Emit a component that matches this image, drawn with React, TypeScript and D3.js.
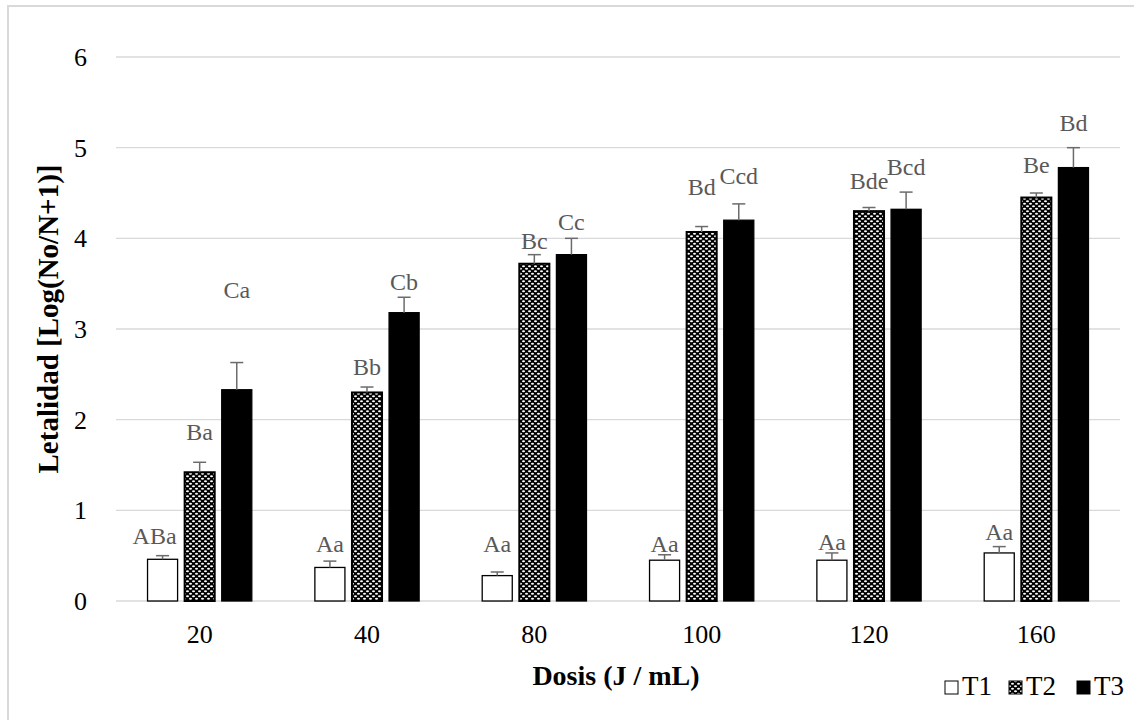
import React, { useEffect, useRef } from 'react';
import * as d3 from 'd3';

const categories = ['20', '40', '80', '100', '120', '160'];
const seriesNames = ['T1', 'T2', 'T3'];

// bar heights per series
const t1Values = [0.46, 0.37, 0.28, 0.45, 0.45, 0.53];
const t2Values = [1.42, 2.30, 3.72, 4.07, 4.30, 4.45];
const t3Values = [2.33, 3.18, 3.82, 4.20, 4.32, 4.78];

// upper end of the error bars
const t1ErrTop = [0.50, 0.44, 0.32, 0.51, 0.53, 0.60];
const t2ErrTop = [1.53, 2.36, 3.82, 4.13, 4.34, 4.50];
const t3ErrTop = [2.63, 3.35, 4.00, 4.38, 4.51, 5.00];

// significance letters and where they sit (in y units)
const t1Letters = ['ABa', 'Aa', 'Aa', 'Aa', 'Aa', 'Aa'];
const t2Letters = ['Ba', 'Bb', 'Bc', 'Bd', 'Bde', 'Be'];
const t3Letters = ['Ca', 'Cb', 'Cc', 'Ccd', 'Bcd', 'Bd'];
const t1LetterY = [0.72, 0.63, 0.63, 0.63, 0.66, 0.76];
const t2LetterY = [1.87, 2.58, 3.98, 4.57, 4.64, 4.81];
const t3LetterY = [3.43, 3.52, 4.18, 4.69, 4.79, 5.28];

const yTicks = [0, 1, 2, 3, 4, 5, 6];

const serif = '"Liberation Serif", "Times New Roman", Times, serif';

export default function App() {
  const svgRef = useRef<SVGSVGElement>(null);

  useEffect(() => {
    if (!svgRef.current) return;
    const svg = d3.select(svgRef.current);
    svg.selectAll('*').remove();

    const W = 1134, H = 720;
    const plot = { left: 116, right: 1120, top: 57, bottom: 601 };

    const values = [t1Values, t2Values, t3Values];
    const errs = [t1ErrTop, t2ErrTop, t3ErrTop];
    const letters = [t1Letters, t2Letters, t3Letters];
    const letterY = [t1LetterY, t2LetterY, t3LetterY];

    const x0 = d3.scaleBand<string>().domain(categories).range([plot.left, plot.right]);
    const x1 = d3.scaleBand<string>()
      .domain(seriesNames)
      .range([0, x0.bandwidth()])
      .paddingInner(0.19)
      .paddingOuter(0.85);
    const y = d3.scaleLinear().domain([0, 6]).range([plot.bottom, plot.top]);

    // pattern for T2
    const defs = svg.append('defs');
    const pat = defs.append('pattern')
      .attr('id', 'lattice')
      .attr('patternUnits', 'userSpaceOnUse')
      .attr('width', 6)
      .attr('height', 5);
    pat.append('rect').attr('width', 6).attr('height', 5).attr('fill', '#000');
    pat.append('ellipse').attr('cx', 1.5).attr('cy', 1.25).attr('rx', 1.5).attr('ry', 1.1).attr('fill', '#fff');
    pat.append('ellipse').attr('cx', 4.5).attr('cy', 3.75).attr('rx', 1.5).attr('ry', 1.1).attr('fill', '#fff');

    svg.append('rect')
      .attr('x', 0).attr('y', 0).attr('width', W).attr('height', H)
      .attr('fill', '#fff');

    // chart frame
    svg.append('rect')
      .attr('x', 8).attr('y', 6).attr('width', W).attr('height', H)
      .attr('fill', 'none').attr('stroke', '#d9d9d9').attr('stroke-width', 2);

    // grid lines
    svg.append('g')
      .selectAll('line')
      .data(yTicks)
      .join('line')
      .attr('x1', plot.left).attr('x2', plot.right)
      .attr('y1', d => y(d)).attr('y2', d => y(d))
      .attr('stroke', '#d9d9d9').attr('stroke-width', 1.3);

    // y tick labels
    svg.append('g')
      .selectAll('text')
      .data(yTicks)
      .join('text')
      .attr('x', 87).attr('y', d => y(d))
      .attr('dy', '0.35em')
      .attr('text-anchor', 'end')
      .style('font-family', serif).attr('font-size', 26).attr('fill', '#000')
      .text(d => d);

    // x tick labels
    svg.append('g')
      .selectAll('text')
      .data(categories)
      .join('text')
      .attr('x', d => (x0(d) as number) + x0.bandwidth() / 2)
      .attr('y', 643)
      .attr('text-anchor', 'middle')
      .style('font-family', serif).attr('font-size', 26).attr('fill', '#000')
      .text(d => d);

    const fills = ['#fff', 'url(#lattice)', '#000'];
    const strokeW = [1.3, 2, 1.3];

    seriesNames.forEach((s, si) => {
      const g = svg.append('g');
      const rows = categories.map((c, ci) => ({ c, v: values[si][ci], e: errs[si][ci], l: letters[si][ci], ly: letterY[si][ci] }));
      const bx = (c: string) => (x0(c) as number) + (x1(s) as number);
      const cx = (c: string) => bx(c) + x1.bandwidth() / 2;

      g.selectAll('rect')
        .data(rows)
        .join('rect')
        .attr('x', d => bx(d.c))
        .attr('y', d => y(d.v))
        .attr('width', x1.bandwidth())
        .attr('height', d => y(0) - y(d.v))
        .attr('fill', fills[si])
        .attr('stroke', '#000')
        .attr('stroke-width', strokeW[si]);

      // error bars
      g.selectAll('line.err')
        .data(rows)
        .join('line')
        .attr('class', 'err')
        .attr('x1', d => cx(d.c)).attr('x2', d => cx(d.c))
        .attr('y1', d => y(d.v)).attr('y2', d => y(d.e))
        .attr('stroke', '#6b6b6b').attr('stroke-width', 1.5);
      g.selectAll('line.cap')
        .data(rows)
        .join('line')
        .attr('class', 'cap')
        .attr('x1', d => cx(d.c) - 6.5).attr('x2', d => cx(d.c) + 6.5)
        .attr('y1', d => y(d.e)).attr('y2', d => y(d.e))
        .attr('stroke', '#6b6b6b').attr('stroke-width', 1.5);

      // the first T1 label sits a little left of its bar
      g.selectAll('text')
        .data(rows)
        .join('text')
        .attr('x', d => cx(d.c) - (d.l === 'ABa' ? 8 : 0))
        .attr('y', d => y(d.ly))
        .attr('dy', '0.35em')
        .attr('text-anchor', 'middle')
        .style('font-family', serif).attr('font-size', 24).attr('fill', '#595959')
        .text(d => d.l);
    });

    // axis titles
    svg.append('text')
      .attr('x', 616).attr('y', 685)
      .attr('text-anchor', 'middle')
      .style('font-family', serif).attr('font-size', 28).attr('font-weight', 'bold')
      .text('Dosis (J / mL)');

    svg.append('text')
      .attr('transform', `translate(58,${(plot.top + plot.bottom) / 2 - 10}) rotate(-90)`)
      .attr('text-anchor', 'middle')
      .style('font-family', serif).attr('font-size', 29).attr('font-weight', 'bold')
      .text('Letalidad [Log(No/N+1)]');

    // legend
    const legendX = [945, 1009, 1077];
    const legend = svg.append('g');
    seriesNames.forEach((s, si) => {
      legend.append('rect')
        .attr('x', legendX[si]).attr('y', 681)
        .attr('width', 13).attr('height', 13)
        .attr('fill', fills[si])
        .attr('stroke', '#000').attr('stroke-width', 1);
      legend.append('text')
        .attr('x', legendX[si] + 17).attr('y', 695)
        .style('font-family', serif).attr('font-size', 27).attr('fill', '#000')
        .text(s);
    });
  }, []);

  return (
    <svg
      ref={svgRef}
      width={1134}
      height={720}
      style={{ position: 'absolute', left: 0, top: 0, display: 'block' }}
    />
  );
}
